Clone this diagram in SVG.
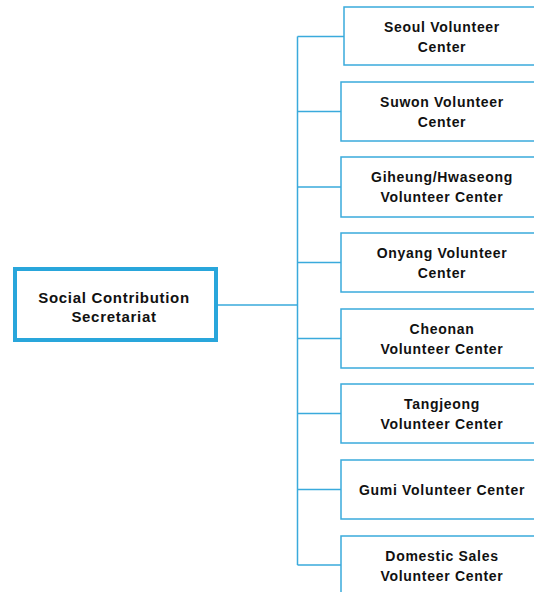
<svg xmlns="http://www.w3.org/2000/svg" width="534" height="592" viewBox="0 0 534 592">
<style>
.box{fill:#fff;stroke:#3aaadc;stroke-width:1.5}
.main{fill:#fff;stroke:#29a6db;stroke-width:4}
.line{fill:none;stroke:#3aaadc;stroke-width:1.5}
text{font-family:"Liberation Sans",Arial,sans-serif;font-weight:bold;font-size:14px;letter-spacing:0.7px;fill:#111;text-anchor:middle}
.mt{font-size:15px;letter-spacing:0.7px}
</style>
<rect width="534" height="592" fill="#fff"/>
<g id="connectors">
<path class="line" d="M217 305H297.5M297.5 36.5V565M297.5 36.5H344M297.5 111.5H341M297.5 187H341M297.5 262.5H341M297.5 338.5H341M297.5 413.5H341M297.5 489.5H341M297.5 565H341"/>
</g>
<g id="main">
<rect class="main" x="15" y="269" width="201" height="71"/>
<text class="mt" x="114" y="303">Social Contribution</text>
<text class="mt" x="114" y="322">Secretariat</text>
</g>
<g id="seoul">
<rect class="box" x="344" y="7" width="200" height="58"/>
<text x="442" y="32">Seoul Volunteer</text>
<text x="442" y="52">Center</text>
</g>
<g id="suwon">
<rect class="box" x="341" y="82" width="200" height="59"/>
<text x="442" y="107">Suwon Volunteer</text>
<text x="442" y="127">Center</text>
</g>
<g id="giheung">
<rect class="box" x="341" y="157" width="200" height="60"/>
<text x="442" y="182">Giheung/Hwaseong</text>
<text x="442" y="202">Volunteer Center</text>
</g>
<g id="onyang">
<rect class="box" x="341" y="233" width="200" height="59"/>
<text x="442" y="258">Onyang Volunteer</text>
<text x="442" y="278">Center</text>
</g>
<g id="cheonan">
<rect class="box" x="341" y="309" width="200" height="59"/>
<text x="442" y="334">Cheonan</text>
<text x="442" y="354">Volunteer Center</text>
</g>
<g id="tangjeong">
<rect class="box" x="341" y="384" width="200" height="59"/>
<text x="442" y="409">Tangjeong</text>
<text x="442" y="429">Volunteer Center</text>
</g>
<g id="gumi">
<rect class="box" x="341" y="460" width="200" height="59"/>
<text x="442" y="495">Gumi Volunteer Center</text>
</g>
<g id="domestic">
<rect class="box" x="341" y="536" width="200" height="70"/>
<text x="442" y="561">Domestic Sales</text>
<text x="442" y="581">Volunteer Center</text>
</g>
</svg>
